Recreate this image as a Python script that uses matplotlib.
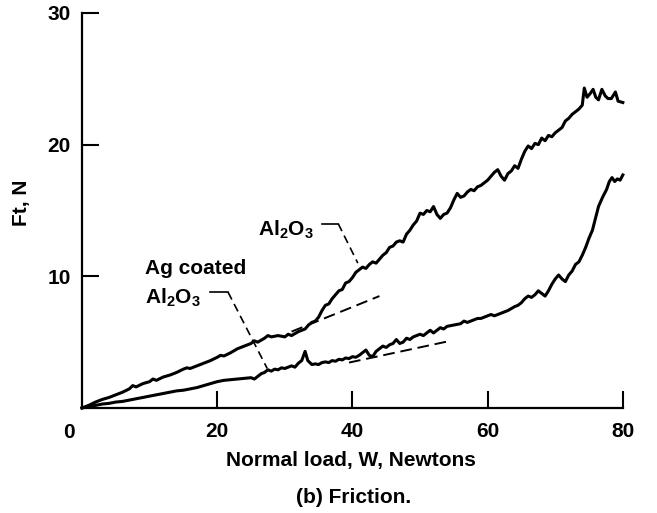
import matplotlib
matplotlib.use("Agg")
import matplotlib.pyplot as plt

plt.rcParams["font.family"] = ["Liberation Sans", "DejaVu Sans"]
plt.rcParams["font.weight"] = "bold"
plt.rcParams["axes.labelweight"] = "bold"
plt.rcParams["mathtext.default"] = "regular"

FS = 15

# ── Data ──────────────────────────────────────────────────────
# Al2O3 (upper trace)
al_x = [0, 1, 2, 3, 4, 5, 6, 7, 7.5, 8, 9, 10, 10.5, 11, 12, 13, 14, 15, 15.5,
        16, 17, 18, 19, 20, 20.5, 21, 22, 23, 24, 25, 25.5, 26, 27, 27.5, 28,
        29, 30, 30.5, 31, 32, 33, 33.5, 34, 34.5, 35, 35.5, 36, 36.5, 37, 37.5,
        38, 38.5, 39, 39.5, 40, 40.5, 41, 41.5, 42, 42.5, 43, 43.5, 44, 44.5,
        45, 45.5, 46, 46.5, 47, 47.5, 48, 48.5, 49, 49.5, 50, 50.5, 51, 51.5,
        52, 52.5, 53, 53.5, 54, 54.5, 55, 55.5, 56, 56.5, 57, 57.5, 58, 58.5,
        59, 59.5, 60, 60.5, 61, 61.5, 62, 62.5, 63, 63.5, 64, 64.5, 65, 65.5,
        66, 66.5, 67, 67.5, 68, 68.5, 69, 69.5, 70, 70.5, 71, 71.5, 72, 72.5,
        73, 73.5, 74, 74.3, 74.7, 75.2, 75.6, 76, 76.4, 76.9, 77.4, 77.8, 78.3,
        78.9, 79.3, 80]
al_y = [0, 0.2, 0.45, 0.65, 0.8, 1.0, 1.2, 1.45, 1.7, 1.6, 1.85, 2.0, 2.2, 2.1,
        2.35, 2.5, 2.7, 2.95, 3.05, 3.0, 3.2, 3.4, 3.6, 3.85, 4.0, 3.95, 4.2,
        4.5, 4.7, 4.9, 5.1, 5.0, 5.3, 5.5, 5.4, 5.5, 5.4, 5.6, 5.5, 5.8, 6.0,
        6.3, 6.5, 6.6, 6.9, 7.4, 7.8, 7.9, 8.3, 8.6, 8.9, 9.0, 9.5, 9.6, 9.9,
        10.3, 10.5, 10.7, 10.6, 10.9, 11.1, 11.0, 11.3, 11.6, 11.8, 12.2, 12.3,
        12.6, 12.7, 12.6, 13.2, 13.5, 13.9, 14.2, 14.8, 14.7, 15.0, 14.9, 15.3,
        14.7, 14.4, 14.7, 14.8, 15.2, 15.8, 16.3, 16.0, 16.1, 16.4, 16.6, 16.5,
        16.8, 16.9, 17.1, 17.3, 17.6, 17.9, 18.1, 17.6, 17.3, 17.8, 18.0, 18.4,
        18.2, 18.9, 19.5, 19.9, 19.7, 20.1, 20.0, 20.5, 20.3, 20.7, 20.6, 20.9,
        21.1, 21.3, 21.8, 22.0, 22.3, 22.5, 22.7, 23.0, 24.3, 23.6, 23.9, 24.2,
        23.6, 23.4, 24.2, 23.7, 23.5, 23.5, 24.0, 23.3, 23.2]

# Ag coated Al2O3 (lower trace)
ag_x = [0, 1, 2, 3, 4, 5, 6, 7, 8, 9, 10, 11, 12, 13, 14, 15, 16, 17, 18, 19,
        20, 21, 22, 23, 24, 25, 25.5, 26, 26.5, 27, 27.5, 28, 28.5, 29, 29.5,
        30, 30.5, 31, 31.5, 32, 32.5, 33, 33.4, 34, 34.5, 35, 35.5, 36, 36.5,
        37, 37.5, 38, 38.5, 39, 39.5, 40, 40.5, 41, 41.5, 42, 42.5, 43, 43.5,
        44, 44.5, 45, 45.5, 46, 46.5, 47, 47.5, 48, 48.5, 49, 49.5, 50, 50.5,
        51, 51.5, 52, 52.5, 53, 53.5, 54, 55, 56, 56.5, 57, 58, 58.5, 59, 60,
        60.5, 61, 62, 62.5, 63, 64, 64.5, 65, 65.5, 66, 66.5, 67, 67.5, 68,
        68.5, 69, 69.5, 70, 70.5, 71, 71.5, 72, 72.5, 73, 73.5, 74, 74.5, 75,
        75.5, 76, 76.4, 77, 77.6, 78, 78.4, 78.8, 79.2, 79.6, 80]
ag_y = [0, 0.1, 0.2, 0.3, 0.35, 0.45, 0.5, 0.6, 0.7, 0.8, 0.9, 1.0, 1.1, 1.2,
        1.3, 1.35, 1.45, 1.55, 1.7, 1.85, 2.0, 2.1, 2.15, 2.2, 2.25, 2.3, 2.2,
        2.4, 2.6, 2.7, 2.9, 2.8, 2.95, 2.9, 3.05, 3.0, 3.1, 3.2, 3.1, 3.4, 3.6,
        4.3, 3.6, 3.3, 3.35, 3.3, 3.45, 3.5, 3.45, 3.6, 3.55, 3.7, 3.65, 3.8,
        3.75, 3.9, 3.85, 4.0, 4.2, 4.4, 4.0, 3.9, 4.3, 4.5, 4.7, 4.6, 4.8, 4.9,
        5.2, 4.9, 5.0, 5.3, 5.2, 5.4, 5.5, 5.6, 5.5, 5.7, 5.9, 5.7, 5.9, 6.1,
        6.0, 6.2, 6.3, 6.4, 6.6, 6.5, 6.7, 6.8, 6.8, 7.0, 7.1, 7.0, 7.2, 7.3,
        7.4, 7.7, 7.8, 8.0, 8.3, 8.5, 8.4, 8.6, 8.9, 8.7, 8.5, 8.9, 9.4, 9.8,
        10.1, 9.8, 9.6, 10.1, 10.4, 10.9, 11.1, 11.6, 12.2, 12.9, 13.5, 14.5,
        15.3, 16.0, 16.6, 17.2, 17.5, 17.2, 17.4, 17.3, 17.7]

# dashed linear extrapolations
al_fit_x = [31, 44]
al_fit_y = [5.8, 8.5]
ag_fit_x = [39.5, 54.5]
ag_fit_y = [3.45, 5.1]

x_ticks = [20, 40, 60, 80]
y_ticks = [10, 20, 30]

# ── Figure ────────────────────────────────────────────────────
fig = plt.figure(figsize=(6.57, 5.13), dpi=100)
ax = fig.add_axes([0.1248, 0.2047, 0.8232, 0.77])

ax.plot(al_x, al_y, color="black", lw=2.2, clip_on=False)
ax.plot(ag_x, ag_y, color="black", lw=2.2, clip_on=False)
ax.plot(al_fit_x, al_fit_y, color="black", lw=1.4, ls=(0, (6, 3)))
ax.plot(ag_fit_x, ag_fit_y, color="black", lw=1.4, ls=(0, (6, 3)))

ax.set_xlim(0, 80)
ax.set_ylim(0, 30)
for s in ("top", "right"):
    ax.spines[s].set_visible(False)
for s in ("left", "bottom"):
    ax.spines[s].set_linewidth(1.6)

ax.set_xticks(x_ticks)
ax.set_yticks(y_ticks)
ax.tick_params(axis="x", direction="in", length=12, width=1.5,
               pad=10, labelsize=FS)
ax.tick_params(axis="y", direction="in", length=12, width=1.5,
               pad=8, labelsize=FS)
ax.text(-2, -1.85, "0", ha="center", va="center", fontsize=FS)

ax.set_xlabel("Normal load, W, Newtons", fontsize=FS)
ax.xaxis.set_label_coords(0.498, -0.11)
ax.set_ylabel("Ft, N", fontsize=FS)
ax.yaxis.set_label_coords(-0.094, 0.52)
fig.text(0.538, 0.031, "(b) Friction.", ha="center", va="center",
         fontsize=FS)

# ── Annotations ──────────────────────────────────────────────
ax.text(30.1, 13.55, "Al$_2$O$_3$", ha="center", va="center", fontsize=FS)
ax.plot([35.5, 37.9], [14.0, 14.0], color="black", lw=1.2, clip_on=False)
ax.plot([37.9, 40.8], [14.0, 11.0], color="black", lw=1.2, ls=(0, (5, 3)))

ax.text(9.3, 10.6, "Ag coated", ha="left", va="center", fontsize=FS)
ax.text(9.3, 8.4, "Al$_2$O$_3$", ha="left", va="center", fontsize=FS)
ax.plot([18.9, 21.6], [8.8, 8.8], color="black", lw=1.2)
ax.plot([21.6, 27.4], [8.8, 3.0], color="black", lw=1.2, ls=(0, (5, 3)))

fig.savefig("out.png", dpi=100)
